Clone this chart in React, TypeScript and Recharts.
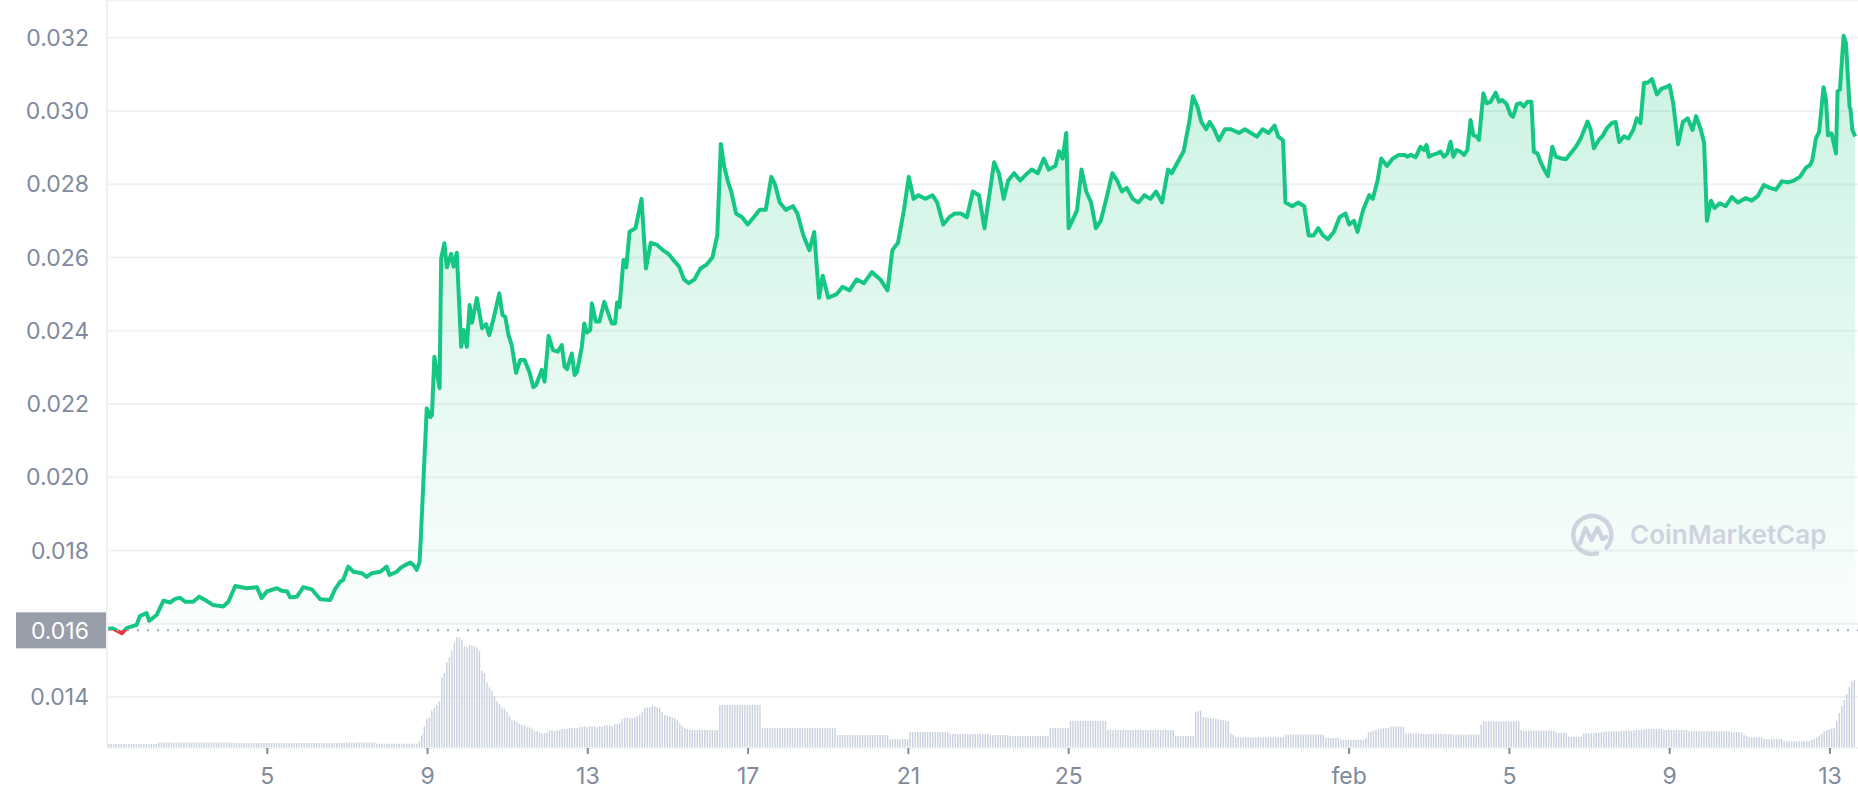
import React from "react";
import {
  ComposedChart, Area, Bar, XAxis, YAxis, CartesianGrid, ReferenceLine,
} from "recharts";

// price readings: day offset from Jan 1 00:00, price in USD
const priceDays = [
  0.03, 0.15, 0.37, 0.49, 0.74, 0.82, 0.99, 1.05, 1.24, 1.41, 1.57, 1.7, 1.82, 1.95, 2.15, 2.3, 2.45, 2.65, 2.9, 3.03,
  3.2, 3.49, 3.74, 3.86, 3.99, 4.24, 4.36, 4.5, 4.57, 4.74, 4.9, 5.11, 5.32, 5.57, 5.69, 5.82, 5.89, 6.02, 6.15, 6.36,
  6.48, 6.61, 6.82, 6.98, 7.05, 7.23, 7.32, 7.44, 7.57, 7.65, 7.73, 7.8, 7.83,
  7.98, 8.07, 8.11, 8.17, 8.3, 8.34, 8.42, 8.48, 8.59, 8.65, 8.73, 8.84, 8.9, 8.98, 9.05, 9.11, 9.23, 9.36, 9.46, 9.54,
  9.65, 9.79, 9.87, 9.94, 10.02, 10.1, 10.21, 10.31, 10.42, 10.54, 10.64, 10.71, 10.85, 10.92, 11.02, 11.13, 11.25, 11.35, 11.42, 11.48,
  11.6, 11.67, 11.73, 11.85, 11.91, 11.98, 12.06, 12.1, 12.2, 12.29, 12.41, 12.54, 12.6, 12.68, 12.73, 12.79, 12.89, 12.96, 13.04,
  13.19, 13.34, 13.45, 13.57, 13.72, 13.87, 14.01, 14.16, 14.28, 14.4, 14.52, 14.66, 14.81, 14.96, 15.11, 15.23, 15.32, 15.4, 15.49, 15.58,
  15.7, 15.85, 15.99, 16.14, 16.29, 16.44, 16.58, 16.67, 16.79, 16.94, 17.12, 17.23, 17.38, 17.53, 17.65, 17.77, 17.86, 18.0, 18.21, 18.36,
  18.53, 18.71, 18.89, 19.09, 19.3, 19.48, 19.6, 19.74, 19.89, 20.01, 20.13, 20.25, 20.42, 20.6, 20.72, 20.87, 21.02, 21.16, 21.31, 21.46,
  21.61, 21.76, 21.9, 22.02, 22.14, 22.26, 22.38, 22.49, 22.64, 22.79, 22.97, 23.08, 23.23, 23.38, 23.5, 23.67, 23.76, 23.85, 23.94, 24.0,
  24.09, 24.21, 24.32, 24.44, 24.56, 24.68, 24.8, 24.94, 25.09, 25.21, 25.33, 25.45, 25.6, 25.74, 25.89, 26.04, 26.18, 26.33, 26.48, 26.57,
  26.72, 26.87, 27.01, 27.1, 27.22, 27.31, 27.43, 27.52, 27.63, 27.75, 27.9, 28.05, 28.25, 28.4, 28.55, 28.7, 28.84, 28.99, 29.14, 29.23,
  29.35, 29.41, 29.58, 29.73, 29.88, 29.99, 30.11, 30.23, 30.35, 30.47, 30.62, 30.76, 30.91, 31.0, 31.12, 31.21, 31.35, 31.5, 31.59, 31.71,
  31.8, 31.94, 32.09, 32.24, 32.39,
  32.45, 32.53, 32.66, 32.78, 32.87, 32.93, 32.99, 33.08, 33.2, 33.28, 33.37, 33.45, 33.53, 33.6, 33.68, 33.78, 33.87, 33.95, 34.03, 34.1,
  34.18, 34.24, 34.35, 34.43, 34.53, 34.66, 34.74, 34.82, 34.93, 35.03, 35.09, 35.19, 35.28, 35.36, 35.45, 35.55, 35.61, 35.7, 35.78, 35.87,
  35.96, 36.07, 36.16, 36.28, 36.41, 36.66, 36.78, 36.95, 37.03, 37.11, 37.23,
  37.32, 37.44, 37.56, 37.65, 37.74, 37.86, 37.97, 38.09, 38.18, 38.27, 38.36, 38.45, 38.56, 38.68, 38.8, 38.89, 39.0, 39.09, 39.21, 39.33,
  39.45, 39.57, 39.66, 39.78, 39.86, 39.93, 40.03, 40.12, 40.25, 40.4, 40.55, 40.7, 40.9, 41.05, 41.2, 41.35, 41.5, 41.65, 41.8, 41.95,
  42.1, 42.25, 42.4, 42.5, 42.56, 42.65, 42.73, 42.84, 42.9, 42.95, 43.04, 43.15, 43.19, 43.25, 43.34, 43.4, 43.49, 43.51, 43.56, 43.63,
];

const prices = [
  0.01587, 0.01587, 0.01574, 0.01588, 0.01597, 0.01621, 0.01629, 0.01608, 0.01624, 0.01663, 0.01658, 0.01668, 0.01671, 0.0166, 0.0166, 0.01674, 0.01665, 0.01651, 0.01647, 0.0166,
  0.01703, 0.01697, 0.017, 0.0167, 0.01688, 0.01697, 0.0169, 0.01688, 0.01672, 0.01674, 0.017, 0.01694, 0.01667, 0.01665, 0.01694, 0.01715, 0.01719, 0.01756, 0.01742, 0.01738,
  0.01728, 0.01738, 0.01742, 0.01756, 0.01733, 0.01742, 0.01752, 0.0176, 0.01767, 0.0176, 0.01747, 0.01769, 0.0183,
  0.02188, 0.02164, 0.0217, 0.02329, 0.02243, 0.02598, 0.02639, 0.02573, 0.0261, 0.02575, 0.02613, 0.02356, 0.02402, 0.02356, 0.0247, 0.02422, 0.02489, 0.02407, 0.02418, 0.02388,
  0.02434, 0.02502, 0.02443, 0.02438, 0.02388, 0.02361, 0.02285, 0.0232, 0.0232, 0.02288, 0.02246, 0.02252, 0.02293, 0.02261, 0.02386, 0.02347, 0.02343, 0.02361, 0.02302, 0.02295,
  0.02338, 0.02279, 0.02288, 0.02356, 0.0242, 0.02395, 0.02402, 0.02475, 0.02425, 0.02425, 0.02479, 0.02438, 0.0242, 0.0242, 0.02477, 0.02464, 0.02593, 0.02573, 0.0267,
  0.0268, 0.0276, 0.0257, 0.0264, 0.02635, 0.0262, 0.0261, 0.0259, 0.02575, 0.0254, 0.0253, 0.0254, 0.0257, 0.0258, 0.026, 0.0266, 0.0291, 0.0285, 0.0281, 0.0278,
  0.0272, 0.0271, 0.0269, 0.0271, 0.0273, 0.0273, 0.0282, 0.028, 0.0275, 0.0273, 0.0274, 0.0272, 0.0266, 0.0262, 0.0267, 0.0249, 0.0255, 0.0249, 0.025, 0.0252,
  0.0251, 0.0254, 0.0253, 0.0256, 0.0254, 0.0251, 0.0262, 0.0264, 0.0273, 0.0282, 0.0276, 0.0277, 0.0276, 0.0277, 0.0275, 0.0269, 0.0271, 0.0272, 0.0272, 0.0271,
  0.0278, 0.0277, 0.0268, 0.0277, 0.0286, 0.0283, 0.0276, 0.0281, 0.0283, 0.0281, 0.0283, 0.0284, 0.0283, 0.0287, 0.0284, 0.0285, 0.0289, 0.0287, 0.0294, 0.0268,
  0.027, 0.0273, 0.0284, 0.0278, 0.0275, 0.0268, 0.027, 0.0276, 0.0283, 0.0281, 0.0278, 0.0279, 0.0276, 0.0275, 0.0277, 0.0276, 0.0278, 0.0275, 0.0284, 0.0283,
  0.0286, 0.0289, 0.0297, 0.0304, 0.0301, 0.0297, 0.0295, 0.0297, 0.0295, 0.0292, 0.0295, 0.0295, 0.0294, 0.0295, 0.0294, 0.0293, 0.0295, 0.0294, 0.0296, 0.0293,
  0.0292, 0.0275, 0.0274, 0.0275, 0.0274, 0.0266, 0.0266, 0.0268, 0.0266, 0.0265, 0.0267, 0.0271, 0.0272, 0.0269, 0.027, 0.0267, 0.0273, 0.0277, 0.0276, 0.0281,
  0.0287, 0.0285, 0.0287, 0.0288, 0.0288,
  0.02875, 0.0288, 0.02874, 0.02902, 0.02893, 0.02907, 0.02875, 0.0288, 0.02884, 0.02889, 0.02875, 0.02884, 0.02916, 0.02875, 0.02893, 0.02889, 0.0288, 0.02893, 0.02975, 0.02934,
  0.0293, 0.02921, 0.03048, 0.03021, 0.03025, 0.0305, 0.03025, 0.0303, 0.03019, 0.02989, 0.02984, 0.03019, 0.03021, 0.03012, 0.03025, 0.03025, 0.02889, 0.02884, 0.0286, 0.0284,
  0.02822, 0.02902, 0.02875, 0.02871, 0.02868, 0.02902, 0.02925, 0.02971, 0.02948, 0.02898, 0.02921,
  0.02931, 0.02954, 0.02967, 0.0297, 0.02915, 0.02931, 0.02925, 0.02948, 0.0298, 0.02967, 0.03077, 0.03077, 0.03087, 0.03045, 0.03061, 0.03064, 0.0307, 0.03019, 0.02909, 0.0297,
  0.0298, 0.02948, 0.02986, 0.02948, 0.02912, 0.027, 0.02755, 0.02735, 0.02748, 0.0274, 0.02765, 0.0275, 0.02762, 0.02755, 0.02768, 0.02798, 0.0279, 0.02785, 0.02808, 0.02805,
  0.0281, 0.0282, 0.02845, 0.02852, 0.02866, 0.02925, 0.02943, 0.03065, 0.0303, 0.02934, 0.02939, 0.02884, 0.03053, 0.03059, 0.03205, 0.03185, 0.0301, 0.03007, 0.02948, 0.0293,
];

// volume, one bar every 1.5 h (16 a day), thousands of USD
const volumeStart = 0.045;
const volumeStep = 1 / 16;
const volumes = [
  4, 4, 4, 4, 4, 4, 4, 4, 4, 4, 4, 4, 4, 4, 4, 4,
  4, 4, 4, 4, 5.3, 5.3, 5.3, 5.3, 5.3, 5.3, 5.3, 5.3, 5.3, 5.3, 5.3, 5.3,
  5.3, 5.3, 5.3, 5.3, 5.3, 5.3, 5.3, 5.3, 5.3, 5.3, 5.3, 5.3, 5.3, 5.3, 5.3, 5.3,
  5.3, 5.3, 5.3, 5, 5, 5, 5, 5, 5, 5, 5, 5, 5, 5, 5, 5,
  5, 5, 5, 5, 5, 5, 5, 5, 5, 5, 5, 5, 5, 5, 5, 5,
  5, 5, 5, 5, 5, 5, 5, 5, 5, 5, 5, 5, 5, 5.3, 5.3, 5.3,
  5.3, 5.3, 5.3, 5.3, 5.3, 5.3, 5.3, 5.3, 5.3, 5.3, 5.3, 4.3, 4.3, 4.3, 4.3, 4.3,
  4.3, 4.3, 4.3, 4.3, 4.3, 4.3, 4.3, 4.3, 4.3, 4.3, 4.3, 4.3, 6.7, 12.7, 21.7, 29,
  30.7, 37.7, 40, 42.7, 46.7, 70.7, 75, 85.7, 90.7, 97.3, 105.7, 110.7, 110.7, 108.3, 101.7, 100.7,
  102.7, 102.7, 101.7, 100.7, 97.3, 77.3, 74.7, 65.7, 60.7, 56.7, 51.7, 46.7, 44.3, 40.7, 39.3, 35.7,
  32.3, 27.7, 27.7, 25.7, 24.3, 23.3, 22.7, 20.7, 20.7, 19.3, 16.7, 16.7, 15.7, 14.7, 14.7, 15.7,
  17.7, 17.7, 16.7, 17.7, 17.7, 19, 19, 19, 20, 20, 19.7, 20, 20.7, 21.3, 21.7, 20.7,
  21.3, 21.7, 21.7, 20.7, 21.7, 21.7, 22.7, 22.7, 22.7, 21.7, 23.7, 23.7, 25, 29, 30, 30.7,
  30, 30, 30.7, 31.7, 33.3, 36, 40, 40.7, 40.7, 41.7, 41.7, 40.7, 40, 35.7, 32.7, 32.3,
  31.7, 30.7, 30, 27.7, 24.7, 22, 20, 19, 18, 18, 18, 18, 18, 18, 18, 18,
  18, 18, 18, 18, 43, 43, 43, 43, 43, 43, 43, 43, 43, 43, 43, 43,
  43, 43, 43, 43, 43, 20, 20, 20, 20, 20, 20, 20, 20, 20, 20, 20,
  20, 20, 20, 20, 20, 20, 20, 20, 20, 20, 20, 20, 20, 20, 20, 20,
  20, 20, 20, 13, 13, 13, 13, 13, 13, 13, 13, 13, 13, 13, 13, 13,
  13, 13, 13, 13, 13, 13, 13, 13, 9, 9, 9, 9, 9, 9, 9, 9,
  16, 16, 16, 16, 16, 16, 16, 16, 16, 16, 16, 16, 16, 16, 16, 16,
  14, 14, 14, 14, 14, 14, 14, 14, 14, 14, 14, 14, 14, 14, 14, 14,
  13, 13, 13, 13, 13, 13, 13, 13, 12, 12, 12, 12, 12, 12, 12, 12,
  12, 12, 12, 12, 12, 12, 12, 12, 20, 20, 20, 20, 20, 20, 20, 20,
  27, 27, 27, 27, 27, 27, 27, 27, 27, 27, 27, 27, 27, 27, 27, 18,
  18, 18, 18, 18, 18, 18, 18, 18, 18, 18, 18, 18, 18, 18, 18, 18,
  18, 18, 18, 18, 18, 18, 18, 18, 18, 18, 12, 12, 12, 12, 12, 12,
  12, 12, 36, 37, 37.3, 31, 30.7, 30, 29.7, 29.3, 29, 28.7, 28, 27.7, 27.3, 27,
  14.7, 13, 10.7, 10.7, 10.7, 10.7, 10.7, 10.7, 10.7, 10.7, 10.7, 10.7, 10.7, 10.7, 10.7, 10.7,
  10.7, 10.7, 10.7, 10.7, 10.7, 10.7, 13.3, 13.3, 13.3, 13.3, 13.3, 13.3, 13.3, 13.3, 13.3, 13.3,
  13.3, 13.3, 13.3, 13.3, 13.3, 13.3, 10, 10, 10, 10, 10, 10, 8.3, 8.3, 8.3, 8.3,
  8.3, 8.3, 8.3, 8.3, 8.3, 8.3, 10, 15.7, 16.5, 17.3, 18, 18.7, 19.3, 20, 20, 20,
  21.3, 21.3, 21.3, 21.3, 21.3, 21.3, 14.7, 14.7, 14.7, 14.7, 14.7, 14.7, 14, 14, 14, 14,
  14, 14, 14, 14, 14, 14, 14, 14, 14, 13.3, 13.3, 13.3, 13.3, 13.3, 13.3, 13.3,
  13.3, 13.3, 13.3, 13.3, 23.3, 26.7, 26.7, 26.7, 26.7, 26.7, 26.7, 26.7, 26.7, 26.7, 26.7, 26.7,
  26.7, 26.7, 26.7, 26.7, 18, 17.3, 17.3, 17.3, 17.3, 17.3, 17.3, 17.3, 17.3, 17.3, 17.3, 17.3,
  17.3, 17.3, 15.3, 15.3, 15.3, 15.3, 15.3, 11.3, 11.3, 11.3, 11.3, 11.3, 11.3, 14.7, 14.7, 14.7,
  14.7, 15, 15.3, 15.7, 16, 16.3, 16.7, 16.7, 16.7, 16.7, 16.7, 16.7, 17.3, 17.3, 17.3, 17.3,
  17.3, 17.7, 18, 18, 18.3, 18.7, 19, 19, 19, 19, 19, 19, 19, 18, 18, 18,
  18, 18, 18, 18, 18, 18, 18, 16.7, 16.7, 16.7, 16.7, 16.7, 16.7, 16.7, 16.7, 16.7,
  16.7, 16.7, 16.7, 16.7, 16.7, 16.7, 16.7, 16.7, 15.7, 15.7, 15.7, 15.7, 15.7, 13, 12, 11,
  10.7, 10.7, 10.7, 10.7, 10.7, 9, 9, 9, 9, 9, 9, 9, 9, 6.7, 6.7, 6.7,
  6.7, 6.7, 6.7, 6.7, 6.7, 6.7, 6.7, 6.7, 8, 9, 10.5, 12.3, 14, 16.7, 18, 19,
  19.5, 20, 27, 35, 42, 48, 54, 61, 66.7, 68,
];

const tickDays = [4, 8, 12, 16, 20, 24, 31, 35, 39, 43];
const tickLabels = ["5", "9", "13", "17", "21", "25", "feb", "5", "9", "13"];
const priceTicks = [0.014, 0.016, 0.018, 0.02, 0.022, 0.024, 0.026, 0.028, 0.03, 0.032];
const openPrice = 0.01582;

const priceDomain: [number, number] = [0.012608, 0.033029];
const dayDomain: [number, number] = [0, 43.7];

const rows = [
  ...volumes.map((v, i) => ({ t: volumeStart + i * volumeStep, vol: v })),
  ...priceDays.map((d, i) => ({ t: d, price: prices[i] })),
].sort((a, b) => a.t - b.t);

const refFrac = (priceDomain[1] - openPrice) / (priceDomain[1] - priceDomain[0]);

const GREEN = "#16c784";
const RED = "#ea3943";
const TEXT = "#808a9d";
const GRID = "#eff2f5";

const VolumeBar = (props: any) => {
  const { x, y, width, height } = props;
  if (!(height > 0) || !isFinite(x)) return <g />;
  const cx = x + width / 2;
  return <rect x={cx - 0.7} y={y} width={1.4} height={height} fill="#c9d0dd" />;
};

const OpenLabel = (props: any) => {
  const vb = props.viewBox || {};
  const y = vb.y;
  const left = vb.x;
  return (
    <g>
      <rect x={left - 91} y={y - 18} width={92} height={36} fill="#989eaa" />
      <text x={left - 18} y={y} dy="0.355em" textAnchor="end" fill="#ffffff" fontSize={23}>
        {openPrice.toFixed(3)}
      </text>
    </g>
  );
};

const Watermark = () => (
  <div style={{ position: "absolute", left: 1567, top: 510, display: "flex", alignItems: "center", pointerEvents: "none" }}>
    <svg width={50} height={50} viewBox="0 0 50 50">
      <path d="M 39.5 37.5 A 19 19 0 1 0 30 43.3" fill="none" stroke="#cfd3e0" strokeWidth={4.5} strokeLinecap="round" />
      <path d="M 13 33 L 18.5 18 L 24.5 30 L 30.5 18 L 35.5 29 L 39 27" fill="none" stroke="#cfd3e0" strokeWidth={4.5} strokeLinecap="round" strokeLinejoin="round" />
    </svg>
    <span style={{ marginLeft: 13, fontSize: 26, fontWeight: 600, color: "#cfd3e0", lineHeight: "26px" }}>
      CoinMarketCap
    </span>
  </div>
);

export default function App() {
  return (
    <div style={{ position: "absolute", left: 0, top: 0, width: 1858, height: 800, background: "#fff", fontFamily: "Inter, sans-serif" }}>
      <ComposedChart width={1858} height={800} data={rows} margin={{ top: 0, right: 0, bottom: 0, left: 0 }}>
        <defs>
          <linearGradient id="priceStroke" gradientUnits="userSpaceOnUse" x1="0" y1="0" x2="0" y2="748">
            <stop offset={refFrac} stopColor={GREEN} />
            <stop offset={refFrac} stopColor={RED} />
          </linearGradient>
          <linearGradient id="priceFill" gradientUnits="userSpaceOnUse" x1="0" y1="0" x2="0" y2="748">
            <stop offset={0.05} stopColor={GREEN} stopOpacity={0.38} />
            <stop offset={refFrac} stopColor={GREEN} stopOpacity={0.03} />
            <stop offset={refFrac} stopColor={RED} stopOpacity={0.08} />
            <stop offset={1} stopColor={RED} stopOpacity={0.08} />
          </linearGradient>
        </defs>
        <CartesianGrid vertical={false} yAxisId="price" stroke={GRID} strokeWidth={2} />
        <XAxis
          type="number"
          dataKey="t"
          domain={dayDomain}
          allowDataOverflow
          ticks={tickDays}
          interval={0}
          tickFormatter={(v: number) => tickLabels[tickDays.indexOf(v)] ?? ""}
          height={52}
          tickSize={6}
          tickMargin={14}
          tick={{ fill: TEXT, fontSize: 23 }}
          tickLine={{ stroke: TEXT, strokeWidth: 2 }}
          axisLine={{ stroke: GRID, strokeWidth: 2 }}
        />
        <YAxis
          yAxisId="price"
          domain={priceDomain}
          allowDataOverflow
          ticks={priceTicks}
          interval={0}
          width={107}
          tickSize={6}
          tickMargin={12}
          tickLine={false}
          tickFormatter={(v: number) => (Math.abs(v - openPrice) < 0.0005 ? "" : v.toFixed(3))}
          tick={{ fill: TEXT, fontSize: 23 }}
          axisLine={{ stroke: GRID, strokeWidth: 2 }}
        />
        <YAxis yAxisId="vol" hide domain={[0, 748]} allowDataOverflow />
        <Bar yAxisId="vol" dataKey="vol" shape={VolumeBar} isAnimationActive={false} />
        <Area
          yAxisId="price"
          type="linear"
          dataKey="price"
          baseValue={openPrice}
          connectNulls
          stroke="url(#priceStroke)"
          strokeWidth={4}
          strokeLinejoin="round"
          fill="url(#priceFill)"
          dot={false}
          activeDot={false}
          isAnimationActive={false}
        />
        <ReferenceLine
          yAxisId="price"
          y={openPrice}
          stroke="#a0a6b1"
          strokeWidth={2}
          strokeDasharray="2 8"
          label={OpenLabel}
        />
      </ComposedChart>
      <Watermark />
    </div>
  );
}
